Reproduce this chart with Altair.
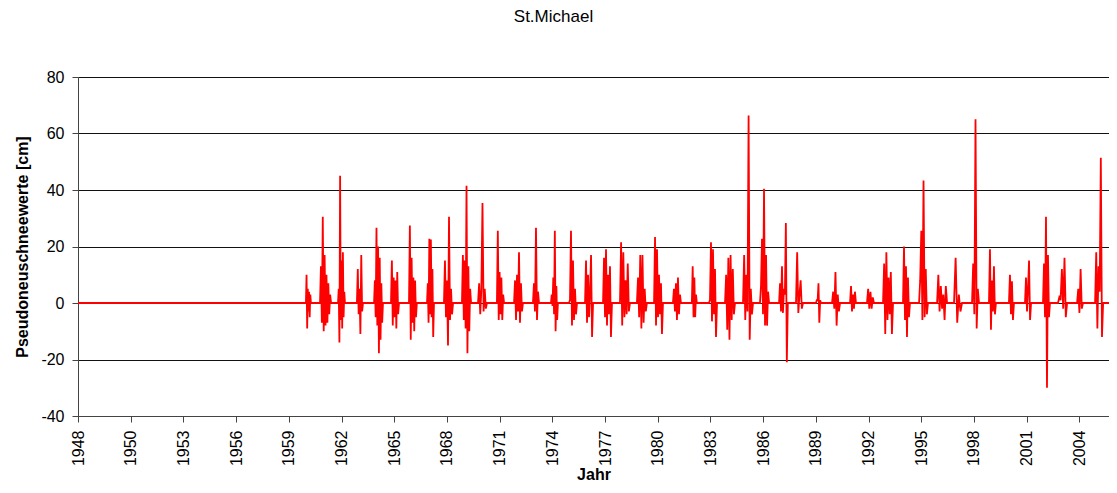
import altair as alt
import pandas as pd

TITLE = "St.Michael"
Y_TITLE = "Pseudoneuschneewerte [cm]"
X_TITLE = "Jahr"

# x tick positions (decimal years) and their labels
TICK_POS = [1948.0, 1950.955, 1953.91, 1956.865, 1959.82, 1962.775, 1965.73,
            1968.685, 1971.64, 1974.595, 1977.55, 1980.505, 1983.46, 1986.415,
            1989.37, 1992.325, 1995.28, 1998.235, 2001.19, 2004.145]
TICK_LABELS = ["1948", "1950", "1953", "1956", "1959", "1962", "1965", "1968",
               "1971", "1974", "1977", "1980", "1983", "1986", "1989", "1992",
               "1995", "1998", "2001", "2004"]
Y_TICKS = [-40, -20, 0, 20, 40, 60, 80]
X_DOMAIN = [1948.0, 2005.81]
Y_DOMAIN = [-40, 80]

SERIES_START = 1948.0

# winter seasons: start / end (decimal years) and the daily values
CLUSTER_START = [1960.78, 1961.57, 1962.58, 1963.64, 1964.60, 1965.55, 1966.56, 1967.57,
                 1968.52, 1969.53, 1970.43, 1971.49, 1972.45, 1973.51, 1974.52, 1975.53,
                 1976.43, 1977.44, 1978.39, 1979.34, 1980.30, 1981.36, 1982.42, 1983.38,
                 1984.28, 1985.29, 1986.24, 1987.31, 1988.26, 1989.38, 1990.28, 1991.29,
                 1992.24, 1993.14, 1994.26, 1995.16, 1996.17, 1997.12, 1998.13, 1999.08,
                 2000.20, 2001.10, 2002.11, 2002.95, 2004.02, 2005.03, 2006.09]
CLUSTER_END = [1961.06, 1962.19, 1962.97, 1963.98, 1965.10, 1966.00, 1967.00, 1967.96,
               1969.03, 1970.04, 1970.93, 1971.89, 1972.95, 1973.85, 1974.91, 1975.98,
               1976.88, 1977.94, 1978.95, 1979.90, 1980.80, 1981.81, 1982.70, 1983.83,
               1984.84, 1985.85, 1986.75, 1987.80, 1988.65, 1989.66, 1990.73, 1991.62,
               1992.63, 1993.70, 1994.65, 1995.66, 1996.73, 1997.57, 1998.52, 1999.47,
               2000.48, 2001.44, 2002.50, 2003.46, 2004.35, 2005.48, 2006.40]
CLUSTER_VALUES = [
    [10, -9, 5, -3, 4, -5, 3],
    [13, -7, 30.5, -10, 17, -8, 10, -7, 7, -4, 3],
    [5, -14, 45, -6, 15, -9, 18, -5, 4],
    [12, -4, 5, -11, 17, -3],
    [8, -5, 26.6, -8, 20, -17.8, 16, -13, 7, -7],
    [15, -8, 9, -5, 8, -9, 11, -4],
    [27.4, -13, 16, -7, 9, -10, 8, -5],
    [7, -7, 22.7, -4, 22.5, -5, 12, -12],
    [15, -5, 8, -15, 30.5, -6, 5, -4],
    [17, -6, 15, -9, 41.5, -17.8, 13, -10, 5],
    [7, -4, 5, 35.4, -3, 5, -2],
    [25.6, -6, 11, -4, 9, -6, 3],
    [8, -6, 10, -3, 18, -7, 7, -3],
    [7, -3, 26.6, -6, 4],
    [3, -1, 9, -4, 25.6, -10, 6, -6],
    [1, 25.6, -8, 15, -6, 5, -4],
    [15, -7, 10, -5, 4, 17, -12],
    [16, -5, 19, -8, 10, -4, 13, -12],
    [21.5, -8, 18, -5, 8, -4, 14, -3],
    [9, -5, 17, -9, 17, -7, 5, -3],
    [23.4, -8, 19, -5, 10, -4, 7, -11],
    [5, -3, 7, -6, 9, -4, 3],
    [13, -5, 9, -5, 3],
    [1, 21.5, -6.5, 19, -4, 12, -12],
    [10, -9.5, 16, -13, 17, -6, 12, -4],
    [17, -6, 10, -3, 66.4, -13, 5, -4],
    [6, 22.7, -4, 40.4, -8, 17, -8, 4],
    [7, -3, 13, -3.5, 5, 3, 28.3, -21],
    [18, -3.5, 3, 8, -2],
    [1, 1, 7, -7, 1],
    [4, -2, 11, -8, 3, -3],
    [6, -3, 3, -2, 4],
    [5, -2, 4, -2, 2],
    [14, -11, 18, -6, 9, -4, 11, -11],
    [20, -6, 13, -12, 9, -5],
    [8, 25.6, -6, 43.4, -5, 12, -4],
    [10, -3, 6, -2, 3, -6, 6],
    [16, -7, 3, -3],
    [14, -4, 65, -9, 5],
    [19, -9.5, 8, -3, 13, -4],
    [10, -4, 7.7, -6],
    [9, -3, 5, 15, -6],
    [14, -5, 30.5, -30, 17, -5],
    [2, 1, 12, -2, 16, -5],
    [5, -3.5, 12, -2],
    [18, -9, 13, 4, 51.4, -12],
    [3, -5, 12],
]

rows = [{"t": SERIES_START, "v": 0.0}]
for start, end, vals in zip(CLUSTER_START, CLUSTER_END, CLUSTER_VALUES):
    seq = [0.0] + list(vals) + [0.0]
    n = len(seq) - 1
    for j, v in enumerate(seq):
        rows.append({"t": start + (end - start) * j / n, "v": v})
df = pd.DataFrame(rows)

label_expr = "[" + ",".join("'%s'" % s for s in TICK_LABELS) + "][indexof([" + \
    ",".join(str(p) for p in TICK_POS) + "], datum.value)]"

FONT = "Liberation Sans"

chart = alt.Chart(df).mark_line(color="#FF0000", strokeWidth=1.8, clip=True).encode(
    x=alt.X("t:Q",
            scale=alt.Scale(domain=X_DOMAIN, nice=False, zero=False),
            axis=alt.Axis(values=TICK_POS, labelExpr=label_expr, title=X_TITLE,
                          labelAngle=270, labelAlign="right", labelBaseline="middle",
                          labelFontSize=16, labelFont=FONT, labelColor="#000",
                          labelPadding=8, tickSize=6, tickColor="#444", domainColor="#444",
                          labelOverlap=False, labelFlush=False, grid=False,
                          titleFont=FONT, titleFontSize=16, titleFontWeight="bold",
                          titleColor="#000", titlePadding=1)),
    y=alt.Y("v:Q",
            scale=alt.Scale(domain=Y_DOMAIN, nice=False, zero=False),
            axis=alt.Axis(values=Y_TICKS, title=Y_TITLE, grid=True, gridColor="#111",
                          gridWidth=1, gridOpacity=1, labelExpr="'' + datum.value",
                          labelFontSize=16, labelFont=FONT, labelColor="#000",
                          labelPadding=8, tickSize=6, tickColor="#444", domainColor="#444",
                          labelFlush=False, labelOverlap=False,
                          titleFont=FONT, titleFontSize=16, titleFontWeight="bold",
                          titleColor="#000", titlePadding=10)),
).properties(
    width=1031, height=339,
    autosize=alt.AutoSizeParams(type="none"),
    padding={"left": 70, "top": 69, "right": 0, "bottom": 69},
    title=alt.TitleParams(TITLE, font=FONT, fontSize=17, fontWeight="normal",
                          color="#000", anchor="middle", dx=-40, offset=43),
).configure_view(stroke=None)

chart.save("out.html", embed_options={"renderer": "svg", "actions": False})
